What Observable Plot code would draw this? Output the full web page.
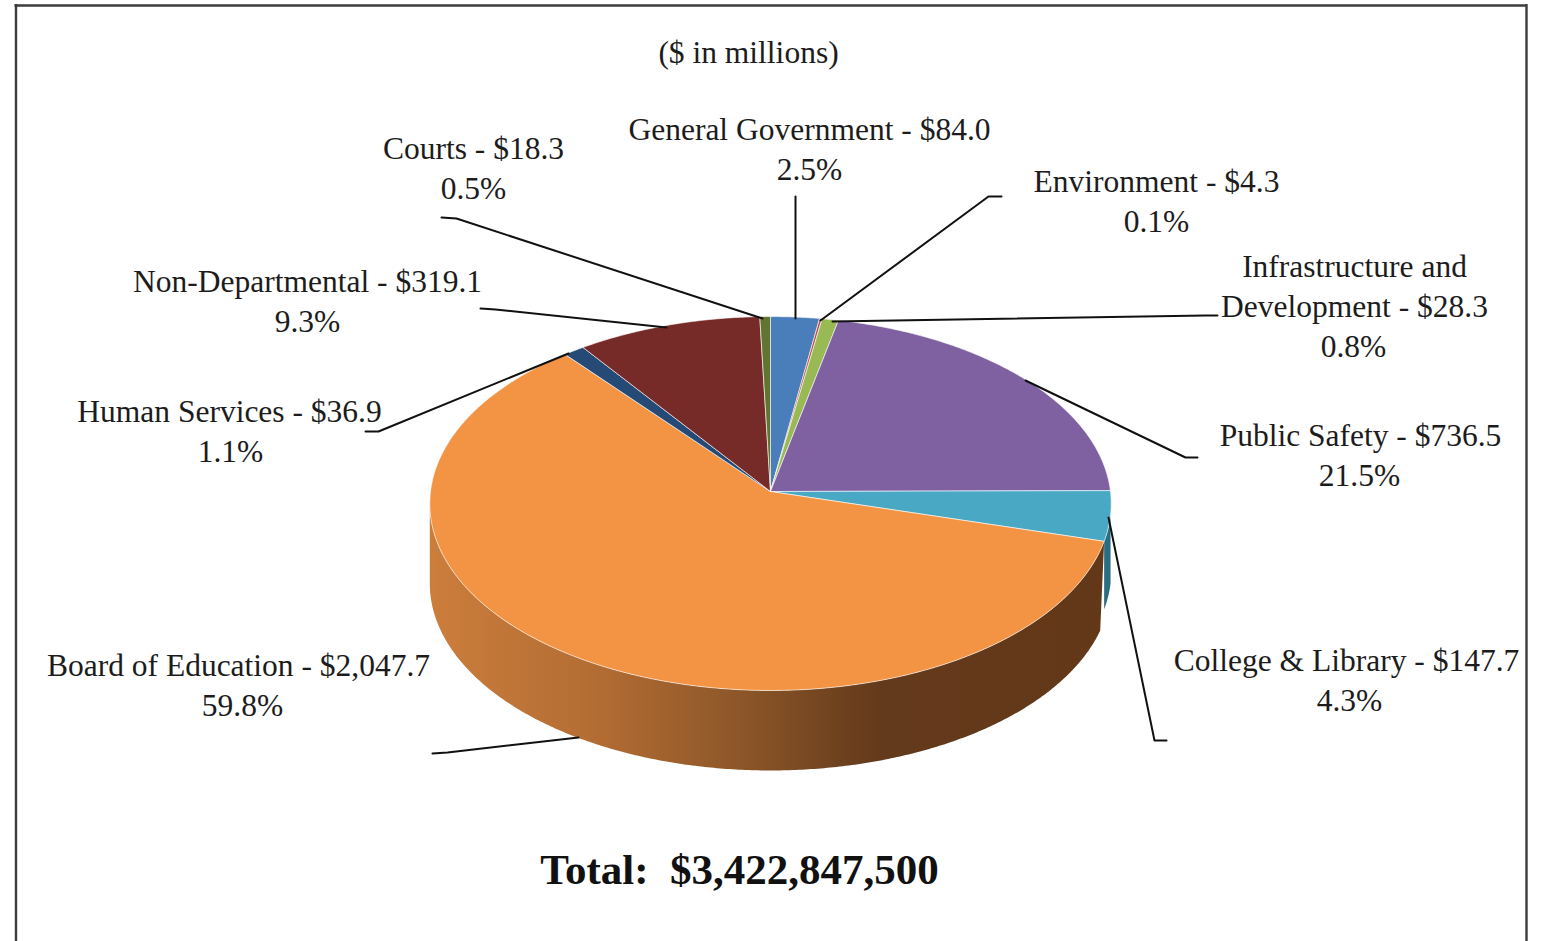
<!DOCTYPE html>
<html>
<head>
<meta charset="utf-8">
<title>General fund by function</title>
<script src="https://cdn.jsdelivr.net/npm/d3@7"></script>
<script src="https://cdn.jsdelivr.net/npm/@observablehq/plot@0.6"></script>
<style>
  html, body { margin: 0; padding: 0; background: #fff; overflow: hidden; }
  svg { display: block; }
</style>
</head>
<body>
<div id="chart"></div>
<script>
// Budget categories, clockwise from twelve o'clock ($ in millions).
const categories = ["General Government", "Environment", "Infrastructure and Development", "Public Safety",
  "College & Library", "Board of Education", "Human Services", "Non-Departmental", "Courts"];
const amounts = [84.0, 4.3, 28.3, 736.5, 147.7, 2047.7, 36.9, 319.1, 18.3];
const percents = ["2.5%", "0.1%", "0.8%", "21.5%", "4.3%", "59.8%", "1.1%", "9.3%", "0.5%"];
const sliceColors = ["#4a7ebb", "#be4b48", "#98b954", "#7f60a0", "#49a9c5", "#f39445", "#254a75", "#772b29", "#5f7530"];

// Caption layout for each category: lines above the percentage and the text centres.
const captionNames = [["General Government - "], ["Environment - "], ["Infrastructure and", "Development - "],
  ["Public Safety - "], ["College & Library - "], ["Board of Education - "], ["Human Services - "],
  ["Non-Departmental - "], ["Courts - "]];
const captionX = [809, 1156, 1354, 1360, 1346, 238, 229, 307, 473];
const percentX = [809, 1156, 1353, 1359, 1349, 242, 230, 307, 473];
const captionY = [129, 181, 266, 435, 660, 665, 411, 281, 148];
const captionStep = 40;

// Leader lines from each caption to its slice.
const leaderPaths = [
  [[795, 196], [795, 318]],
  [[1001, 196], [988, 196], [820, 320]],
  [[1217, 315], [1205, 315], [832, 321]],
  [[1197, 457], [1185, 457], [1025, 380]],
  [[1166, 740], [1154, 740], [1108, 517]],
  [[432, 753], [447, 752], [578, 737]],
  [[365, 431], [378, 431], [568, 353]],
  [[480, 308], [495, 309], [666, 327]],
  [[441, 217], [456, 218], [762, 318]]
];

const W = 1547, H = 941;

// Tilted disc: the apex stays at the slice centre while the near rim swells under perspective.
const apex = [770, 491], radiusX = 340, radiusY = 186.2, tilt = 0.0642, depth = 80;
const total = d3.sum(amounts);
function rim(turn, drop = 0) {
  const a = turn * 2 * Math.PI, u = Math.sin(a), v = -Math.cos(a), w = 1 - tilt * v;
  return {x: apex[0] + radiusX * u / w, y: apex[1] + radiusY * v / w + drop};
}
function arcTurns(t0, t1) {
  const n = Math.max(2, Math.ceil((t1 - t0) * 720));
  return d3.range(n + 1).map((i) => t0 + (t1 - t0) * i / n);
}

const stops = d3.cumsum(amounts).map((c) => c / total);
const startOf = (i) => (i ? stops[i - 1] : 0);

const faces = categories.flatMap((name, i) => {
  const ring = arcTurns(startOf(i), stops[i]).map((t) => ({name, ...rim(t)}));
  const closing = {name, x: apex[0], y: apex[1]};
  return [closing, ...ring, closing];
});

// Side wall of a slice; its lower edge may begin a little later than its upper edge.
function wall(name, t0, t1, drop, lowerT0 = t0) {
  const upper = arcTurns(t0, t1).map((t) => ({name, ...rim(t)}));
  const lower = arcTurns(lowerT0, t1).reverse().map((t) => ({name, ...rim(t, drop)}));
  return [...upper, ...lower, upper[0]];
}
// The silhouette's widest point on the left, where the wall stops being visible.
const leftmostTurn = 1 - Math.acos(-tilt) / (2 * Math.PI);
const boardIndex = categories.indexOf("Board of Education");
const collegeIndex = categories.indexOf("College & Library");
const boardWall = wall(categories[boardIndex], startOf(boardIndex), leftmostTurn, depth, startOf(boardIndex) + 0.008);
const collegeWall = wall(categories[collegeIndex], 0.27, stops[collegeIndex], 68);

const captionLines = categories.flatMap((name, i) => {
  const names = captionNames[i];
  const amount = d3.format("$,.1f")(amounts[i]);
  const lines = [...names.slice(0, -1), names[names.length - 1] + amount];
  const above = lines.map((text, k) => ({text, x: captionX[i], y: captionY[i] + k * captionStep}));
  return [...above, {text: percents[i], x: percentX[i], y: captionY[i] + lines.length * captionStep}];
});

const leaders = leaderPaths.flatMap((path, i) => path.map(([x, y]) => ({name: categories[i], x, y})));

// Horizontal shading of the outer wall.
const wallShade = () => {
  const defs = d3.create("svg:defs");
  const g = defs.append("linearGradient").attr("id", "wall-shade")
    .attr("gradientUnits", "userSpaceOnUse")
    .attr("x1", 428).attr("x2", 1110).attr("y1", 0).attr("y2", 0);
  [[0, "#cc7e3c"], [0.25, "#b26c33"], [0.45, "#8e5729"], [0.66, "#633a1b"], [1, "#623819"]]
    .forEach(([o, c]) => g.append("stop").attr("offset", o).attr("stop-color", c));
  return defs.node();
};

const serif = "'Liberation Serif', 'Times New Roman', serif";

const chart = Plot.plot({
  width: W,
  height: H,
  margin: 0,
  x: {axis: null, domain: [0, W], range: [0, W]},
  y: {axis: null, domain: [0, H], range: [0, H]},
  color: {domain: categories, range: sliceColors},
  style: {background: "#fff", fontFamily: serif},
  marks: [
    wallShade,
    // panel border
    Plot.ruleX([15.5], {y1: 4, y2: H, stroke: "#3c3c3c", strokeWidth: 2.4}),
    Plot.ruleX([1526], {y1: 4, y2: H, stroke: "#3c3c3c", strokeWidth: 2.4}),
    Plot.ruleY([5], {x1: 14.5, x2: 1527, stroke: "#3c3c3c", strokeWidth: 2.4}),
    // disc
    Plot.line(collegeWall, {x: "x", y: "y", fill: "#2a6d82", stroke: "none"}),
    Plot.line(boardWall, {x: "x", y: "y", fill: "url(#wall-shade)", stroke: "none"}),
    Plot.line(faces, {x: "x", y: "y", z: "name", fill: "name", stroke: "#fff", strokeWidth: 1, strokeOpacity: 0.6, strokeLinejoin: "round"}),
    // leaders
    Plot.line(leaders, {x: "x", y: "y", z: "name", stroke: "#111", strokeWidth: 2}),
    // captions
    Plot.text(captionLines, {x: "x", y: "y", text: "text", fontSize: 31.5, fill: "#1c1c1c"}),
    Plot.text(["($ in millions)"], {x: 748, y: 52, fontSize: 31.5, fill: "#1c1c1c"}),
    Plot.text(["Total:\u00a0 $3,422,847,500"], {x: 739, y: 870, fontSize: 43, fontWeight: "bold", fill: "#111"})
  ]
});
document.getElementById("chart").append(chart);
</script>
</body>
</html>
